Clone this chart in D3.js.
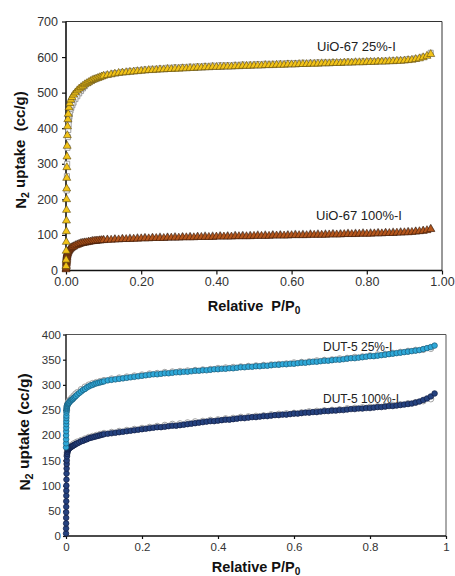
<!DOCTYPE html>
<html>
<head>
<meta charset="utf-8">
<script src="https://cdn.jsdelivr.net/npm/d3@7/dist/d3.min.js"></script>
<style>
  html, body { margin: 0; padding: 0; background: #fff; }
  svg { display: block; }
  text { font-family: "Liberation Sans", Arial, sans-serif; }
</style>
</head>
<body>
<svg id="chart" width="455" height="576"></svg>
<script>
// ---------- UiO-67 panel: N2 isotherms (adsorption, desorption) ----------
const uioP = [
  0.0002, 0.0004, 0.0006, 0.0008, 0.001, 0.0012, 0.0014, 0.0016, 0.0018, 0.002,
  0.0023, 0.0026, 0.003, 0.0035, 0.004, 0.005, 0.006, 0.008, 0.01, 0.013,
  0.016, 0.02, 0.025, 0.03, 0.035, 0.04, 0.045, 0.05, 0.055, 0.06,
  0.065, 0.07, 0.075, 0.08, 0.085, 0.09, 0.095, 0.10,
  0.11, 0.12, 0.13, 0.14, 0.15, 0.16, 0.17, 0.18, 0.19, 0.20,
  0.21, 0.22, 0.23, 0.24, 0.25, 0.26, 0.27, 0.28, 0.29, 0.30,
  0.31, 0.32, 0.33, 0.34, 0.35, 0.36, 0.37, 0.38, 0.39, 0.40,
  0.41, 0.42, 0.43, 0.44, 0.45, 0.46, 0.47, 0.48, 0.49, 0.50,
  0.51, 0.52, 0.53, 0.54, 0.55, 0.56, 0.57, 0.58, 0.59, 0.60,
  0.61, 0.62, 0.63, 0.64, 0.65, 0.66, 0.67, 0.68, 0.69, 0.70,
  0.71, 0.72, 0.73, 0.74, 0.75, 0.76, 0.77, 0.78, 0.79, 0.80,
  0.81, 0.82, 0.83, 0.84, 0.85, 0.86, 0.87, 0.88, 0.89, 0.90,
  0.91, 0.92, 0.93, 0.94, 0.95, 0.96, 0.97
];
const uio25Ads = [
  12, 30, 55, 80, 110, 140, 170, 200, 230, 260,
  290, 320, 350, 380, 405, 425, 440, 458, 470, 480,
  487, 494, 500, 506, 511, 515, 519, 523, 526, 529,
  532, 535, 537, 539, 541, 543, 545, 547,
  549, 551, 553, 555, 556, 557, 558, 559, 560, 561,
  562, 563, 563, 564, 565, 565, 566, 566, 567, 567,
  568, 568, 569, 569, 570, 570, 571, 571, 572, 572,
  572, 573, 573, 573, 574, 574, 575, 575, 575, 576,
  576, 576, 577, 577, 577, 578, 578, 578, 579, 579,
  579, 580, 580, 580, 581, 581, 581, 582, 582, 582,
  583, 583, 583, 584, 584, 584, 585, 585, 585, 586,
  586, 586, 587, 587, 587, 588, 588, 589, 589, 590,
  591, 592, 594, 596, 599, 603, 608
];
const uio100Ads = [
  3, 7, 11, 15, 19, 23, 26, 29, 32, 35,
  38, 41, 44, 47, 49, 52, 54, 57, 60, 63,
  65, 67, 70, 72, 74, 76, 77, 78, 79, 80,
  81, 82, 83, 83, 84, 84, 85, 85,
  86, 86, 87, 87, 88, 88, 88, 89, 89, 90,
  90, 90, 91, 91, 91, 91, 92, 92, 92, 92,
  93, 93, 93, 93, 94, 94, 94, 94, 94, 95,
  95, 95, 95, 95, 96, 96, 96, 96, 96, 97,
  97, 97, 97, 97, 98, 98, 98, 98, 98, 99,
  99, 99, 99, 99, 100, 100, 100, 100, 100, 101,
  101, 101, 101, 102, 102, 102, 102, 103, 103, 103,
  103, 104, 104, 104, 105, 105, 105, 106, 106, 107,
  107, 108, 109, 110, 111, 113, 116
];
const uioDesP = [
  0.97, 0.95, 0.93, 0.91, 0.89, 0.87, 0.85, 0.83, 0.81, 0.79,
  0.77, 0.75, 0.73, 0.71, 0.69, 0.67, 0.65, 0.63, 0.61, 0.59,
  0.57, 0.55, 0.53, 0.51, 0.49, 0.47, 0.45, 0.43, 0.41, 0.39,
  0.37, 0.35, 0.33, 0.31, 0.29, 0.27, 0.25, 0.23, 0.21, 0.19,
  0.17, 0.15, 0.13, 0.11,
  0.10, 0.09, 0.08, 0.07, 0.06, 0.05, 0.045, 0.04, 0.035, 0.03,
  0.025, 0.02, 0.017, 0.014, 0.012, 0.01, 0.009, 0.008, 0.007, 0.006,
  0.005, 0.004, 0.003, 0.0025, 0.002
];
const uio25Des = [
  612, 601, 596, 594, 592, 591, 590, 589, 589, 588,
  587, 587, 586, 586, 585, 585, 584, 584, 583, 583,
  582, 581, 581, 580, 579, 579, 578, 577, 577, 576,
  575, 574, 573, 572, 571, 570, 568, 567, 565, 563,
  561, 558, 555, 551,
  548, 544, 540, 534, 527, 518, 512, 505, 498, 490,
  482, 472, 465, 457, 450, 440, 432, 422, 410, 395,
  375, 345, 300, 265, 225
];
const uio100Des = [
  117, 112, 110, 109, 108, 107, 106, 106, 105, 105,
  104, 104, 103, 103, 102, 102, 102, 101, 101, 100,
  100, 100, 99, 99, 98, 98, 98, 97, 97, 96,
  96, 95, 95, 94, 94, 93, 93, 92, 92, 91,
  90, 89, 88, 87,
  86, 85, 84, 83, 81, 79, 78, 77, 75, 73,
  71, 68, 66, 64, 62, 60, 59, 57, 56, 54,
  52, 49, 45, 42, 38
];
const uioXTicks = [0, 0.2, 0.4, 0.6, 0.8, 1.0];
const uioYTicks = [0, 100, 200, 300, 400, 500, 600, 700];

// ---------- DUT-5 panel: N2 isotherms (adsorption, desorption) ----------
const dutP = [
  0.0001, 0.0002, 0.0003, 0.0004, 0.0005, 0.0006, 0.0007, 0.0008, 0.0009, 0.001,
  0.0012, 0.0014, 0.0016, 0.0018, 0.002, 0.0025, 0.003, 0.004, 0.005, 0.006,
  0.007, 0.008, 0.01, 0.012, 0.014, 0.016, 0.018, 0.02, 0.023, 0.026,
  0.03, 0.035, 0.04, 0.045, 0.05, 0.055, 0.06, 0.065, 0.07, 0.075,
  0.08, 0.085, 0.09, 0.095, 0.10,
  0.11, 0.12, 0.13, 0.14, 0.15, 0.16, 0.17, 0.18, 0.19, 0.20,
  0.21, 0.22, 0.23, 0.24, 0.25, 0.26, 0.27, 0.28, 0.29, 0.30,
  0.31, 0.32, 0.33, 0.34, 0.35, 0.36, 0.37, 0.38, 0.39, 0.40,
  0.41, 0.42, 0.43, 0.44, 0.45, 0.46, 0.47, 0.48, 0.49, 0.50,
  0.51, 0.52, 0.53, 0.54, 0.55, 0.56, 0.57, 0.58, 0.59, 0.60,
  0.61, 0.62, 0.63, 0.64, 0.65, 0.66, 0.67, 0.68, 0.69, 0.70,
  0.71, 0.72, 0.73, 0.74, 0.75, 0.76, 0.77, 0.78, 0.79, 0.80,
  0.81, 0.82, 0.83, 0.84, 0.85, 0.86, 0.87, 0.88, 0.89, 0.90,
  0.91, 0.92, 0.93, 0.94, 0.95, 0.96, 0.97
];
const dut25Ads = [
  176, 184, 192, 200, 208, 215, 222, 228, 234, 239,
  245, 249, 252, 254, 256, 258, 259, 261, 262, 263,
  264, 265, 267, 268, 270, 271, 272, 274, 276, 278,
  281, 284, 287, 290, 292, 295, 297, 299, 300, 302,
  303, 304, 305, 306, 307,
  309, 310, 311, 312, 313, 314, 315, 316, 317, 318,
  319, 320, 321, 321, 322, 323, 323, 324, 325, 325,
  326, 326, 327, 328, 328, 329, 329, 330, 331, 331,
  332, 332, 333, 333, 334, 335, 335, 336, 336, 337,
  337, 338, 338, 339, 340, 340, 341, 341, 342, 342,
  343, 344, 344, 345, 346, 346, 347, 348, 348, 349,
  350, 350, 351, 352, 353, 353, 354, 355, 356, 357,
  357, 358, 359, 360, 361, 362, 363, 364, 365, 366,
  367, 368, 369, 371, 373, 375, 378
];
const dut100Ads = [
  5, 15, 25, 36, 47, 58, 69, 80, 90, 100,
  112, 124, 134, 143, 150, 158, 163, 167, 170, 172,
  173, 174, 175, 176, 177, 178, 179, 180, 181, 183,
  184, 186, 188, 189, 191, 192, 194, 195, 196, 197,
  198, 199, 200, 201, 202,
  203, 204, 205, 206, 207, 208, 209, 210, 211, 212,
  213, 214, 215, 216, 216, 217, 218, 219, 219, 220,
  221, 222, 223, 224, 225, 226, 227, 228, 228, 229,
  230, 231, 231, 232, 233, 234, 234, 235, 236, 236,
  237, 238, 238, 239, 240, 240, 241, 241, 242, 243,
  243, 244, 245, 245, 246, 246, 247, 248, 248, 249,
  249, 250, 250, 251, 252, 252, 253, 253, 254, 254,
  255, 256, 256, 257, 258, 258, 259, 260, 261, 262,
  263, 265, 267, 270, 273, 277, 283
];
const dutDesP = [
  0.96, 0.94, 0.92, 0.90, 0.88, 0.86, 0.84, 0.82, 0.80, 0.78,
  0.76, 0.74, 0.72, 0.70, 0.68, 0.66, 0.64, 0.62, 0.60, 0.58,
  0.56, 0.54, 0.52, 0.50, 0.48, 0.46, 0.44, 0.42, 0.40, 0.38,
  0.36, 0.34, 0.32, 0.30, 0.28, 0.26, 0.24, 0.22, 0.20, 0.18,
  0.16, 0.14, 0.12,
  0.10, 0.09, 0.08, 0.07, 0.06, 0.05, 0.04, 0.03, 0.025, 0.02,
  0.015, 0.01, 0.008, 0.006, 0.004, 0.003, 0.002
];
const dut25Des = [
  372, 370, 369, 367, 365, 363, 361, 360, 358, 356,
  355, 353, 352, 350, 349, 348, 346, 345, 344, 342,
  341, 340, 339, 338, 337, 336, 335, 334, 333, 331,
  330, 329, 328, 327, 326, 325, 323, 322, 320, 318,
  316, 314, 312,
  309, 307, 305, 303, 300, 296, 291, 285, 282, 278,
  274, 270, 268, 266, 262, 258, 250
];
const dut100Des = [
  272, 268, 265, 263, 261, 260, 258, 257, 256, 255,
  254, 253, 251, 250, 249, 248, 247, 245, 244, 243,
  242, 241, 239, 238, 237, 236, 234, 233, 231, 230,
  228, 227, 225, 223, 222, 220, 218, 216, 214, 212,
  210, 208, 206,
  204, 202, 200, 198, 196, 193, 190, 187, 185, 183,
  180, 178, 176, 174, 170, 166, 160
];
const dutXTicks = [0, 0.2, 0.4, 0.6, 0.8, 1];
const dutYTicks = [0, 50, 100, 150, 200, 250, 300, 350, 400];

const svg = d3.select("#chart");

function zip(px, vy) { return px.map((p, i) => ({ p, v: vy[i] })); }

function panel(cfg) {
  const g = svg.append("g");
  const x = d3.scaleLinear().domain([0, 1]).range([cfg.left, cfg.right]);
  const y = d3.scaleLinear().domain([0, cfg.yMax]).range([cfg.bottom, cfg.top]);

  // plot frame: light top/right, dark axes left/bottom
  g.append("path")
    .attr("d", `M${cfg.left},${cfg.top}H${cfg.right}V${cfg.bottom}`)
    .attr("fill", "none").attr("stroke", cfg.frameColor).attr("stroke-width", 1);

  const xAxis = d3.axisBottom(x).tickValues(cfg.xTicks).tickFormat(cfg.xFormat)
    .tickSize(cfg.tick).tickPadding(cfg.xPad);
  const yAxis = d3.axisLeft(y).tickValues(cfg.yTicks).tickFormat(d3.format("d"))
    .tickSize(cfg.tick).tickPadding(cfg.yPad);

  const gx = g.append("g").attr("transform", `translate(0,${cfg.bottom})`).call(xAxis);
  const gy = g.append("g").attr("transform", `translate(${cfg.left},0)`).call(yAxis);
  [gx, gy].forEach(a => {
    a.select(".domain").remove();
    a.selectAll(".tick line").attr("stroke", "#111").attr("stroke-width", 1.2);
    a.selectAll(".tick text").attr("fill", "#333")
      .style("font-size", cfg.tickFont + "px")
      .style("font-family", '"Liberation Sans", Arial, sans-serif');
  });

  // dark axis lines (left and bottom)
  g.append("path")
    .attr("d", `M${cfg.left},${cfg.top}V${cfg.bottom}H${cfg.right}`)
    .attr("fill", "none").attr("stroke", "#111").attr("stroke-width", cfg.axisWidth);

  // series markers, drawn over the axes
  const marks = g.append("g");
  cfg.series.forEach(s => {
    const pts = zip(s.p, s.v);
    if (s.shape === "circle") {
      marks.append("g").selectAll("circle").data(pts).join("circle")
        .attr("cx", d => x(d.p)).attr("cy", d => y(d.v)).attr("r", s.r)
        .attr("fill", s.fill).attr("stroke", s.stroke).attr("stroke-width", s.sw);
    } else {
      const sym = d3.symbol().type(s.shape === "square" ? d3.symbolSquare : d3.symbolTriangle).size(s.size);
      marks.append("g").selectAll("path").data(pts).join("path")
        .attr("transform", d => `translate(${x(d.p)},${y(d.v)})`)
        .attr("d", sym)
        .attr("fill", s.fill).attr("stroke", s.stroke).attr("stroke-width", s.sw);
    }
  });

  // series names
  cfg.labels.forEach(l => {
    g.append("text").attr("x", l.x).attr("y", l.y).text(l.text)
      .attr("fill", "#222").style("font-size", cfg.labelFont + "px");
  });

  // x title with subscript
  const xt = g.append("text")
    .attr("x", (cfg.left + cfg.right) / 2).attr("y", cfg.xTitleY)
    .attr("text-anchor", "middle").attr("fill", "#111")
    .style("font-size", cfg.titleFont + "px").style("font-weight", "bold");
  xt.append("tspan").text(cfg.xTitle);
  xt.append("tspan").text("0").attr("dy", "0.3em").style("font-size", (cfg.titleFont * 0.7) + "px");

  // y title with subscript
  const yt = g.append("text")
    .attr("transform", `translate(${cfg.yTitleX},${cfg.yTitleY}) rotate(-90)`)
    .attr("text-anchor", "middle").attr("fill", "#111")
    .style("font-size", cfg.yTitleFont + "px").style("font-weight", "bold");
  yt.append("tspan").text("N");
  yt.append("tspan").text("2").attr("dy", "0.3em").style("font-size", (cfg.yTitleFont * 0.7) + "px");
  yt.append("tspan").text(cfg.yTitleRest).attr("dy", "-0.3em");
}

panel({
  left: 66, right: 442, top: 21.5, bottom: 270.5, yMax: 700,
  xTicks: uioXTicks, yTicks: uioYTicks, xFormat: d3.format(".2f"),
  tick: 4, xPad: 3, yPad: 4, tickFont: 12.5, labelFont: 13,
  frameColor: "#333", axisWidth: 1.6,
  xTitle: "Relative\u00a0 P/P", xTitleY: 311, titleFont: 14.5,
  yTitleX: 26, yTitleY: 150, yTitleFont: 15, yTitleRest: " uptake\u00a0 (cc/g)",
  labels: [
    { text: "UiO-67 25%-I", x: 317, y: 51 },
    { text: "UiO-67 100%-I", x: 316, y: 220 }
  ],
  series: [
    { p: uioDesP, v: uio25Des, shape: "square", size: 26, fill: "#fff", stroke: "#8a8a8a", sw: 0.8 },
    { p: uioDesP, v: uio100Des, shape: "triangle", size: 28, fill: "#fff", stroke: "#8a8a8a", sw: 0.8 },
    { p: uioP, v: uio100Ads, shape: "triangle", size: 28, fill: "#b4561c", stroke: "#3c1a06", sw: 0.6 },
    { p: uioP, v: uio25Ads, shape: "triangle", size: 28, fill: "#f2c318", stroke: "#5a4810", sw: 0.6 }
  ]
});

panel({
  left: 66, right: 446, top: 334.5, bottom: 536, yMax: 400,
  xTicks: dutXTicks, yTicks: dutYTicks, xFormat: d3.format("~g"),
  tick: 3, xPad: 4, yPad: 2, tickFont: 11.5, labelFont: 12,
  frameColor: "#555", axisWidth: 1.4,
  xTitle: "Relative P/P", xTitleY: 572, titleFont: 14.5,
  yTitleX: 30, yTitleY: 432, yTitleFont: 15.5, yTitleRest: " uptake (cc/g)",
  labels: [
    { text: "DUT-5 25%-I", x: 323, y: 351 },
    { text: "DUT-5 100%-I", x: 323, y: 403 }
  ],
  series: [
    { p: dutDesP, v: dut25Des, shape: "circle", r: 3, fill: "#fff", stroke: "#8c8c8c", sw: 0.8 },
    { p: dutDesP, v: dut100Des, shape: "circle", r: 3, fill: "#fff", stroke: "#8c8c8c", sw: 0.8 },
    { p: dutP, v: dut100Ads, shape: "circle", r: 2.8, fill: "#25427f", stroke: "#101d44", sw: 0.7 },
    { p: dutP, v: dut25Ads, shape: "circle", r: 2.8, fill: "#2ea8d8", stroke: "#1a5a78", sw: 0.7 }
  ]
});
</script>
</body>
</html>
